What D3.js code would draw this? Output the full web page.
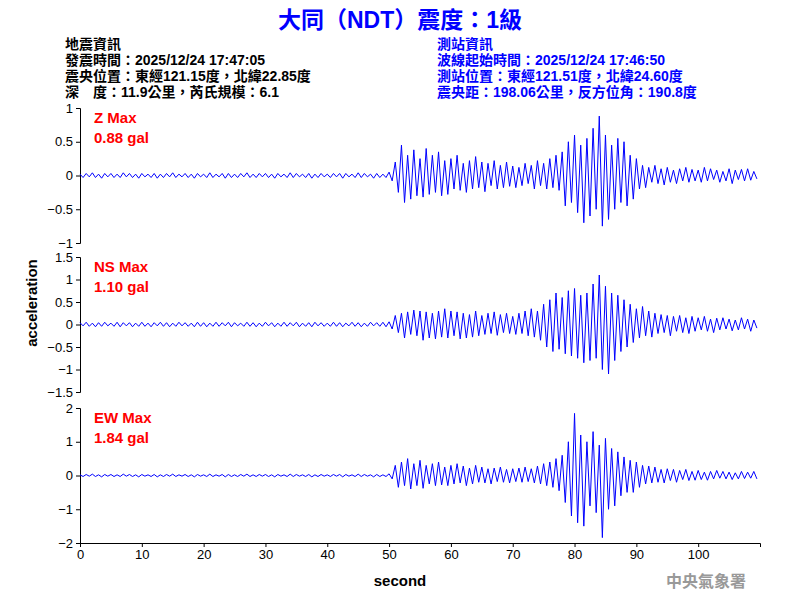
<!DOCTYPE html><html><head><meta charset="utf-8"><script src="https://d3js.org/d3.v7.min.js"></script>
<style>body{margin:0;background:#fff}text{font-family:Arial,"Liberation Sans","Noto Sans CJK TC",sans-serif}</style></head><body>
<script>
const dt = 0.5; // seconds per sample
const noiseA=[2,-3,3,-2,4,-3,2,-4,3,-2,3,-3,2,-3,4,-2,3,-3,2,-4, 3,-2,2,-3,3,-4,2,-3,3,-2,4,-3,2,-2,3,-3,2,-4,3,-2, 2,-3,4,-3,2,-2,3,-4,3,-3,2,-3,3,-2,4,-3,2,-3,3,-2, 3,-3,2,-4,3,-2,2,-3,4,-3,3,-2,2,-3,3,-4,2,-3,3,-2, 2,-3,3,-2,3,-4,3,-2,2,-3,4,-3,3,-2,2,-4,3,-3,2,-3];
const noiseB=[4,-3,5,-4,3,-5,4,-4,5,-3,3,-4,5,-5,4,-3,4,-5,3,-4, 5,-4,3,-5,4,-3,5,-4,4,-5,3,-4,5,-3,4,-4,3,-5,5,-4, 4,-5,3,-4,5,-4,4,-3,5,-5,4,-3,3,-4,5,-4,4,-5,3,-4, 5,-3,4,-5,3,-4,5,-4,4,-3,5,-5,3,-4,4,-5,5,-3,4,-4, 3,-4,5,-4,4,-5,3,-3,5,-4,4,-5,3,-4,5,-3,4,-4,5,-5];
const zEvent=[5,-8,20,-25,45,-40,30,-35,38,-30,25,-32,40,-28,30,-25,35,-30,22,-28, 25,-20,30,-22,18,-25,22,-20,28,-18,20,-24,18,-15,22,-20,15,-18,20,-16, 14,-18,12,-15,18,-12,15,-20,22,-15,18,-20,25,-18,30,-22,35,-45,50,-40, 60,-55,45,-70,55,-60,70,-50,88,-75,60,-65,45,-50,55,-40,50,-45,30,-35, 25,-20,15,-18,12,-10,15,-12,10,-14,12,-10,8,-12,10,-8,12,-10,9,-8, 8,-10,12,-8,10,-6,8,-10,6,-8,10,-12,8,-6,9,-8,10,-7,6,-5];
const nsEvent=[6,-10,20,-18,25,-30,28,-22,32,-25,30,-35,28,-30,25,-32,30,-28,35,-30, 30,-25,28,-32,25,-30,22,-28,30,-25,20,-22,25,-20,28,-24,22,-18,25,-20, 18,-22,25,-20,30,-25,35,-28,30,-35,45,-50,55,-60,70,-55,60,-65,75,-70, 80,-75,65,-85,70,-80,90,-75,110,-100,85,-110,70,-80,65,-60,55,-50,45,-40, 35,-30,40,-25,30,-28,25,-20,22,-18,20,-25,18,-15,20,-18,15,-20,18,-15, 15,-12,18,-15,12,-18,14,-12,15,-10,12,-14,10,-12,15,-10,12,-15,10,-8];
const ewEvent=[5,-10,30,-35,40,-30,50,-40,35,-30,45,-38,30,-25,35,-30,40,-28,25,-30, 30,-25,35,-22,28,-30,22,-25,30,-20,25,-22,20,-25,22,-18,25,-20,18,-22, 20,-18,22,-20,25,-18,20,-22,28,-25,35,-30,40,-35,50,-45,60,-80,100,-120, 184,-140,120,-150,100,-90,130,-110,90,-184,110,-100,80,-90,70,-60,55,-50,45,-50, 40,-35,30,-25,28,-22,25,-20,18,-22,20,-15,18,-20,15,-12,18,-15,12,-14, 15,-12,10,-14,12,-10,15,-8,12,-10,10,-12,8,-10,12,-9,10,-8,12,-10];
const zData=noiseA.concat(zEvent).map(v=>v/100);
const nsData=noiseB.concat(nsEvent).map(v=>v/100);
const ewData=noiseA.concat(ewEvent).map(v=>v/100);
const xTicks=[0,10,20,30,40,50,60,70,80,90,100];
const panels=[
 {name:"Z Max",max:"0.88 gal",data:zData,dom:[-1,1],ticks:[-1,-0.5,0,0.5,1],top:108,bot:243},
 {name:"NS Max",max:"1.10 gal",data:nsData,dom:[-1.5,1.5],ticks:[-1.5,-1,-0.5,0,0.5,1,1.5],top:257,bot:392},
 {name:"EW Max",max:"1.84 gal",data:ewData,dom:[-2,2],ticks:[-2,-1,0,1,2],top:408,bot:543}];
const headL=["地震資訊","發震時間：2025/12/24 17:47:05","震央位置：東經121.15度，北緯22.85度","深　度：11.9公里，芮氏規模：6.1"];
const headR=["測站資訊","波線起始時間：2025/12/24 17:46:50","測站位置：東經121.51度，北緯24.60度","震央距：198.06公里，反方位角：190.8度"];

const svg=d3.select("body").append("svg").attr("width",800).attr("height",600);
const x=d3.scaleLinear().domain([0,110]).range([80,760]);
svg.append("text").attr("x",400).attr("y",28).attr("text-anchor","middle").attr("fill","#0000ff").attr("font-size",23).attr("font-weight","bold").text("大同（NDT）震度：1級");
headL.forEach((t,i)=>svg.append("text").attr("x",65).attr("y",49+i*16).attr("font-size",14).attr("font-weight","bold").attr("fill","#000").text(t));
headR.forEach((t,i)=>svg.append("text").attr("x",437).attr("y",49+i*16).attr("font-size",14).attr("font-weight","bold").attr("fill","#0000ff").text(t));
panels.forEach((p,k)=>{
 const y=d3.scaleLinear().domain(p.dom).range([p.bot,p.top]);
 const g=svg.append("g").attr("transform","translate(80,0)").call(d3.axisLeft(y).tickValues(p.ticks).tickSize(4).tickFormat(d3.format("")));
 g.selectAll("text").attr("font-size",13).attr("fill","#000");
 g.select(".domain").attr("stroke","#000");
 svg.append("path").datum(p.data).attr("fill","none").attr("stroke","#0000ff").attr("stroke-width",1)
   .attr("d",d3.line().x((d,i)=>x(i*dt)).y(d=>y(d)));
 svg.append("text").attr("x",94).attr("y",p.top+15).attr("fill","#ff0000").attr("font-size",15).attr("font-weight","bold").text(p.name);
 svg.append("text").attr("x",94).attr("y",p.top+35).attr("fill","#ff0000").attr("font-size",15).attr("font-weight","bold").text(p.max);
});
const xa=svg.append("g").attr("transform","translate(0,543)").call(d3.axisBottom(x).tickValues(xTicks).tickSize(4).tickFormat(d3.format("")));
xa.selectAll("text").attr("font-size",13).attr("fill","#000");
svg.append("text").attr("x",400).attr("y",586).attr("text-anchor","middle").attr("font-size",15).attr("font-weight","bold").text("second");
svg.append("text").attr("transform","translate(37,303) rotate(-90)").attr("text-anchor","middle").attr("font-size",15).attr("font-weight","bold").text("acceleration");
svg.append("text").attr("x",746).attr("y",587).attr("text-anchor","end").attr("font-size",16).attr("font-weight","bold").attr("fill","#999").attr("font-family","'Noto Serif CJK TC','Noto Sans CJK TC',serif").text("中央氣象署");
</script></body></html>
